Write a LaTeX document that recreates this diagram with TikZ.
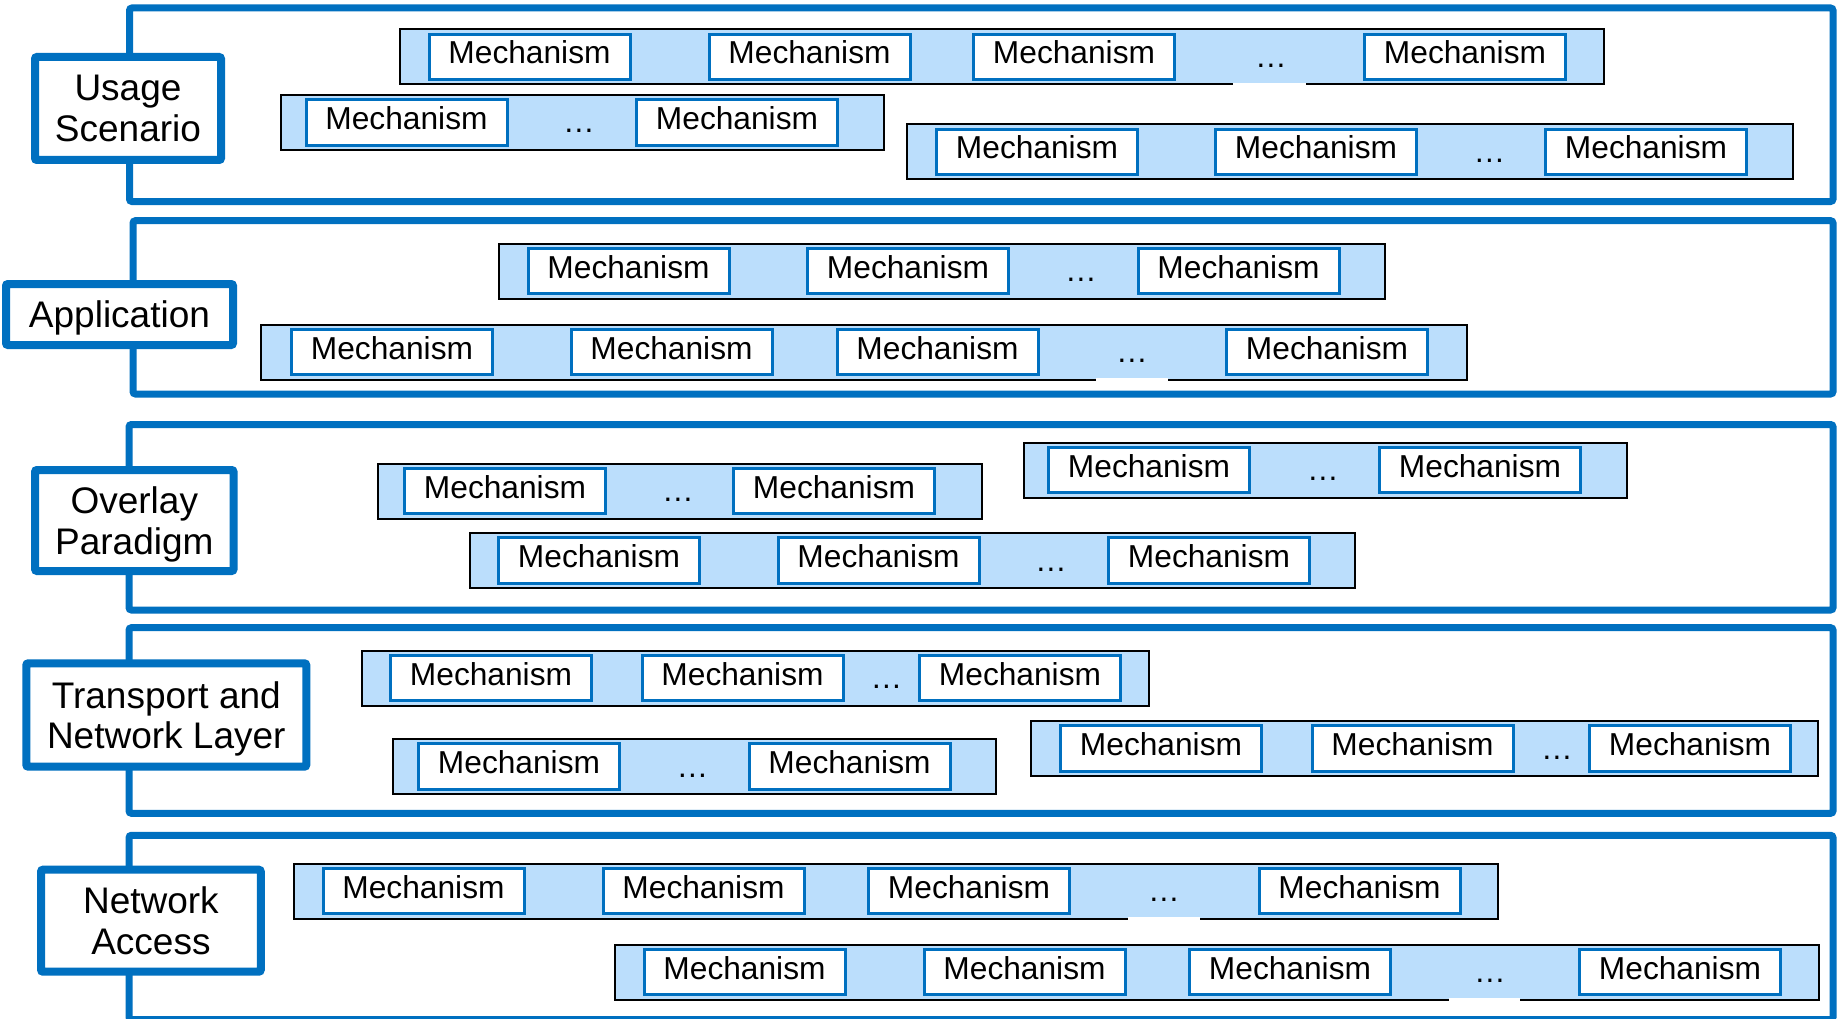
\documentclass[tikz,border=0pt]{standalone}
\usepackage{fontspec}
\setmainfont{Liberation Sans}
\usetikzlibrary{fit}

\definecolor{frameblue}{RGB}{0,112,192}
\definecolor{bandblue}{RGB}{187,222,252}

\newcommand\mechfont{\fontsize{31.7}{38}\selectfont}
\newcommand\layerfont{\fontsize{37}{40.5}\selectfont}

% band: name, left, right (outer edges), centre y
\newcommand\mkband[4]{\node[band, fit={(#2+1,#4-27.5) (#3-1,#4+27.5)}] (#1) {};}
% mechanism box: name, centre x, centre y
\newcommand\mkmech[3]{\node[mech] (#1) at (#2,#3) {Mechanism};}
% ellipsis between mechanisms: name, centre x, band centre y
\newcommand\mkdots[3]{\node[moredots] (#1) at (#2,#3+10.5) {…};}
% white strip under an ellipsis that breaks the band's lower edge
\newcommand\mkgap[3]{\fill[white] (#1,#3+26) rectangle (#2,#3+29);}

\begin{document}
\begin{tikzpicture}[x=1pt,y=-1pt,
  layer/.style={draw=frameblue, line width=7pt, rounded corners=2.5pt, inner sep=0pt},
  lbl/.style={draw=frameblue, fill=white, line width=8pt, rounded corners=2pt,
    inner sep=0pt, align=center, font=\layerfont, text depth=0pt},
  band/.style={draw=black, fill=bandblue, line width=2pt, inner sep=0pt},
  mech/.style={draw=frameblue, fill=white, line width=3pt, inner sep=0pt,
    minimum width=201pt, minimum height=45.5pt, text height=14pt, text depth=0pt,
    font=\mechfont},
  moredots/.style={inner sep=0pt, anchor=base, font=\mechfont}]

\fill[white] (0,0) rectangle (1843,1019);
\useasboundingbox (0,0) rectangle (1843,1019);

% ---- layer frames ----
\node[layer, fit={(129.5,8) (1833,201.5)}] (L1) {};
\node[layer, fit={(133,220.7) (1833,394)}] (L2) {};
\node[layer, fit={(129,424.5) (1833,610)}] (L3) {};
\node[layer, fit={(129,627.7) (1833,813.3)}] (L4) {};
\node[layer, fit={(129,835.3) (1833,1019.5)}] (L5) {};

% ---- layer names ----
\node[lbl, minimum width=186pt, minimum height=103pt] (usage) at (128,108.5) {Usage\\Scenario};
\node[lbl, minimum width=227pt, minimum height=61pt] (app) at (119.5,314.5) {Application};
\node[lbl, minimum width=198.5pt, minimum height=101pt] (overlay) at (134.3,520.5) {Overlay\\Paradigm};
\node[lbl, minimum width=280pt, minimum height=103.4pt] (transport) at (166.3,715) {Transport and\\Network Layer};
\node[lbl, minimum width=219.7pt, minimum height=102pt] (access) at (150.9,920.7) {Network\\Access};

% ---- Usage Scenario ----
\mkband{b11}{399}{1605}{57}
\mkmech{m111}{529.5}{57}\mkmech{m112}{809.5}{57}\mkmech{m113}{1074}{57}
\mkgap{1233}{1306}{57}\mkdots{d11}{1271}{57}\mkmech{m114}{1465}{57}

\mkband{b12}{280}{885}{122.5}
\mkmech{m121}{406.5}{122.5}\mkdots{d12}{579}{122.5}\mkmech{m122}{737}{122.5}

\mkband{b13}{906}{1794}{152}
\mkmech{m131}{1037}{152}\mkmech{m132}{1316}{152}\mkdots{d13}{1489.5}{152}\mkmech{m133}{1646}{152}

% ---- Application ----
\mkband{b21}{498}{1386}{271}
\mkmech{m211}{628.5}{271}\mkmech{m212}{908}{271}\mkdots{d21}{1081}{271}\mkmech{m213}{1238.5}{271}

\mkband{b22}{260}{1467.5}{352}
\mkmech{m221}{392}{352}\mkmech{m222}{671.5}{352}\mkmech{m223}{937.5}{352}
\mkgap{1096}{1168}{352}\mkdots{d22}{1132}{352}\mkmech{m224}{1327}{352}

% ---- Overlay Paradigm ----
\mkband{b31}{377}{983}{491}
\mkmech{m311}{505}{491}\mkdots{d31}{678}{491}\mkmech{m312}{834}{491}

\mkband{b32}{1022.7}{1628}{470}
\mkmech{m321}{1149}{470}\mkdots{d32}{1323}{470}\mkmech{m322}{1480}{470}

\mkband{b33}{469}{1356}{560.5}
\mkmech{m331}{599}{560.5}\mkmech{m332}{878.5}{560.5}\mkdots{d33}{1051}{560.5}\mkmech{m333}{1209}{560.5}

% ---- Transport and Network Layer ----
\mkband{b41}{361}{1150}{678}
\mkmech{m411}{491}{678}\mkmech{m412}{742.5}{678}\mkdots{d41}{886.5}{678}\mkmech{m413}{1020}{678}

\mkband{b42}{392}{997}{766.5}
\mkmech{m421}{519}{766.5}\mkdots{d42}{692.5}{766.5}\mkmech{m422}{849.5}{766.5}

\mkband{b43}{1029.6}{1819}{748.5}
\mkmech{m431}{1161}{748.5}\mkmech{m432}{1412.5}{748.5}\mkdots{d43}{1557}{748.5}\mkmech{m433}{1690}{748.5}

% ---- Network Access ----
\mkband{b51}{292.5}{1499}{891}
\mkmech{m511}{423.5}{891}\mkmech{m512}{703.5}{891}\mkmech{m513}{969}{891}
\mkgap{1127.5}{1200}{891}\mkdots{d51}{1164}{891}\mkmech{m514}{1359.5}{891}

\mkband{b52}{613.7}{1820}{972}
\mkmech{m521}{744.5}{972}\mkmech{m522}{1024.5}{972}\mkmech{m523}{1290}{972}
\mkgap{1449}{1520}{972}\mkdots{d52}{1490}{972}\mkmech{m524}{1680}{972}

\end{tikzpicture}
\end{document}
